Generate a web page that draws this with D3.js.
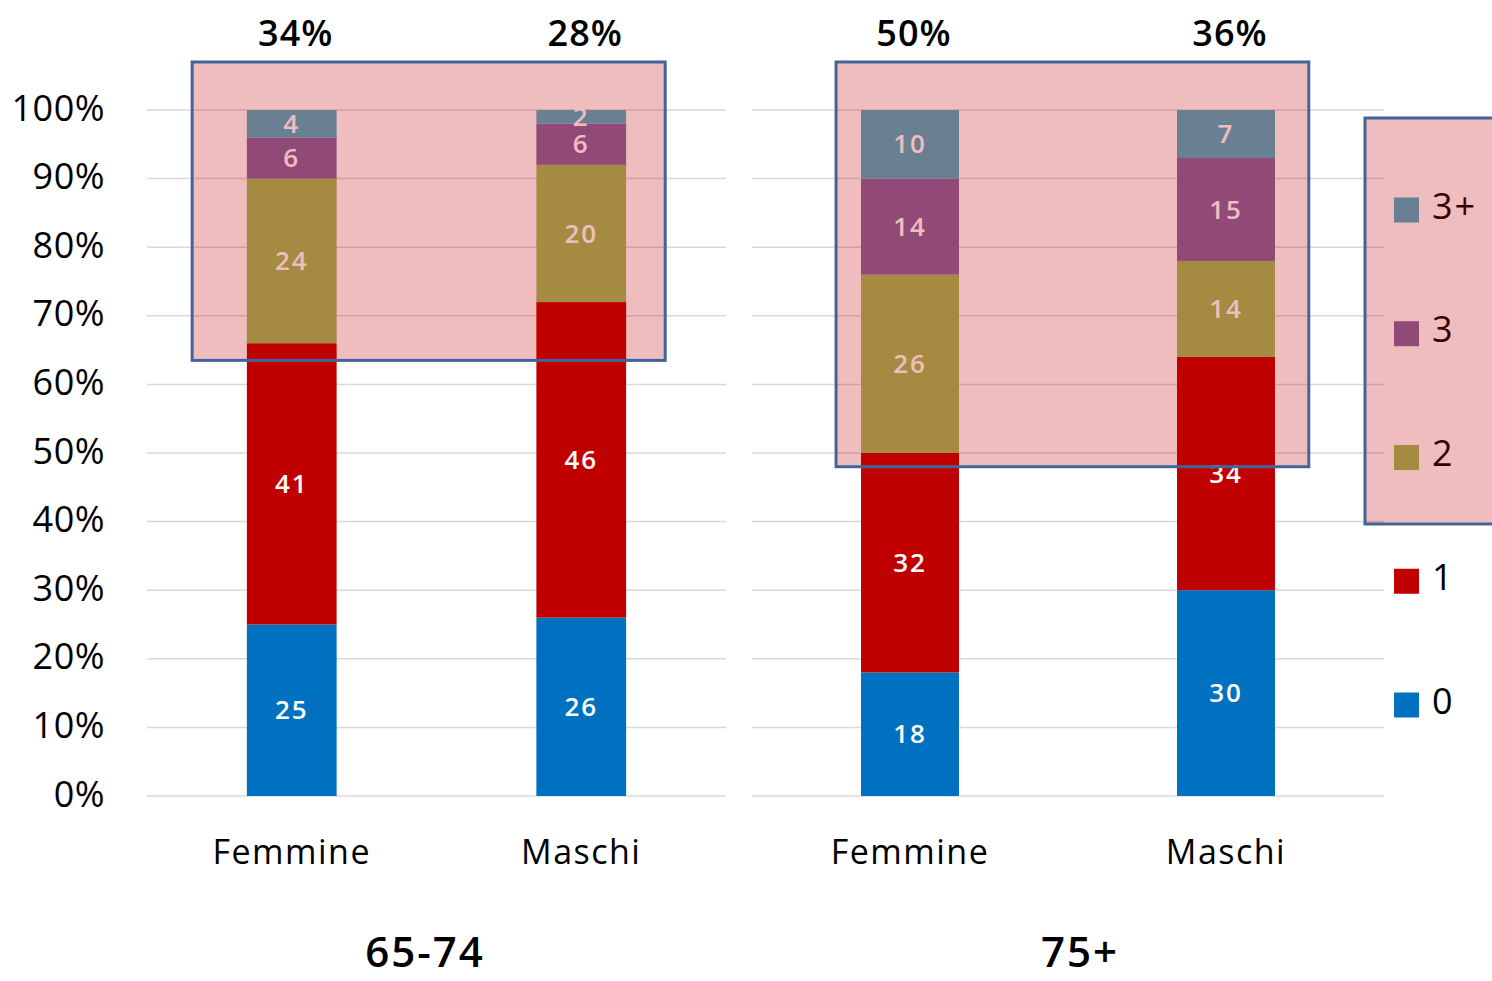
<!DOCTYPE html>
<html>
<head>
<meta charset="utf-8">
<script src="https://cdn.jsdelivr.net/npm/d3@7"></script>
<style>
body { margin: 0; background: #fff; }
svg text { font-family: "Open Sans", "Noto Sans", sans-serif; }
</style>
</head>
<body>
<svg width="1492" height="981"></svg>
<script>
// data
var groups = ["65-74", "75+"];
var sexes = ["Femmine", "Maschi"];
var categories = ["0", "1", "2", "3", "3+"];
var colors = ["#0070c0", "#c00000", "#9bbb59", "#8064a2", "#4bacc6"];
var femmine6574 = [25, 41, 24, 6, 4];
var maschi6574 = [26, 46, 20, 6, 2];
var femmine75 = [18, 32, 26, 14, 10];
var maschi75 = [30, 34, 14, 15, 7];
var topLabels = [["34%", "28%"], ["50%", "36%"]];
var yTicks = [0, 10, 20, 30, 40, 50, 60, 70, 80, 90, 100];

var values = [[femmine6574, maschi6574], [femmine75, maschi75]];

var svg = d3.select("svg");

var y = d3.scaleLinear().domain([0, 100]).range([796, 110]);
var panels = [[147, 726], [752, 1384]];
// highlight boxes: fraction of panel width, top/bottom in % units
var boxes = [{x0: 0.078, x1: 0.895, top: 107, bottom: 63.5},
             {x0: 0.133, x1: 0.881, top: 107, bottom: 48}];

var overlayFill = "rgba(192,0,0,0.26)";
var boxStroke = "#41659b";

// y axis labels
svg.append("g").selectAll("text")
  .data(yTicks).enter().append("text")
  .attr("x", 105)
  .attr("y", function(d) { return y(d) - 2; })
  .attr("dy", "0.35em")
  .attr("text-anchor", "end")
  .style("font-size", "36px")
  .style("letter-spacing", "0.5px")
  .text(function(d) { return d + "%"; });

groups.forEach(function(grp, gi) {
  var p = panels[gi];
  var x = d3.scaleBand().domain(sexes).range(p).paddingInner(0.69).paddingOuter(0.345);
  var g = svg.append("g");

  g.selectAll("line.grid")
    .data(yTicks).enter().append("line")
    .attr("x1", p[0]).attr("x2", p[1])
    .attr("y1", function(d) { return y(d); })
    .attr("y2", function(d) { return y(d); })
    .attr("stroke", "#d9d9d9")
    .attr("stroke-width", 1.5);

  sexes.forEach(function(sex, si) {
    var v = values[gi][si];
    var stack = [];
    var acc = 0;
    v.forEach(function(val, ci) {
      stack.push({lo: acc, hi: acc + val, val: val, ci: ci});
      acc += val;
    });
    g.selectAll("rect.s" + si)
      .data(stack).enter().append("rect")
      .attr("x", x(sex))
      .attr("width", x.bandwidth())
      .attr("y", function(d) { return y(d.hi); })
      .attr("height", function(d) { return y(d.lo) - y(d.hi); })
      .attr("fill", function(d) { return colors[d.ci]; });
    g.selectAll("text.s" + si)
      .data(stack).enter().append("text")
      .attr("x", x(sex) + x.bandwidth() / 2)
      .attr("y", function(d) { return y((d.lo + d.hi) / 2); })
      .attr("dy", "0.35em")
      .attr("text-anchor", "middle")
      .attr("fill", "#fff")
      .style("font-size", "26px")
      .style("font-weight", "600")
      .style("letter-spacing", "2px")
      .text(function(d) { return d.val; });

    g.append("text")
      .attr("x", x(sex) + x.bandwidth() / 2)
      .attr("y", 852)
      .attr("dy", "0.35em")
      .attr("text-anchor", "middle")
      .style("font-size", "34px")
      .style("letter-spacing", "1.5px")
      .text(sex);
  });

  // highlight box
  var px = d3.scaleLinear().domain([0, 1]).range(p);
  var b = boxes[gi];
  g.append("rect")
    .attr("x", px(b.x0)).attr("width", px(b.x1) - px(b.x0))
    .attr("y", y(b.top)).attr("height", y(b.bottom) - y(b.top))
    .attr("fill", overlayFill)
    .attr("stroke", boxStroke)
    .attr("stroke-width", 3);

  sexes.forEach(function(sex, si) {
    g.append("text")
      .attr("x", x(sex) + x.bandwidth() / 2 + 4)
      .attr("y", 33)
      .attr("dy", "0.35em")
      .attr("text-anchor", "middle")
      .style("font-size", "36px")
      .style("font-weight", "600")
      .style("letter-spacing", "1px")
      .text(topLabels[gi][si]);
  });

  g.append("text")
    .attr("x", gi === 0 ? 425 : 1080)
    .attr("y", 952)
    .attr("dy", "0.35em")
    .attr("text-anchor", "middle")
    .style("font-size", "42px")
    .style("font-weight", "600")
    .style("letter-spacing", "2px")
    .text(grp);
});

// legend
var ly = d3.scalePoint().domain(categories.slice().reverse()).range([210, 705]);
var leg = svg.append("g");
leg.selectAll("rect")
  .data(categories).enter().append("rect")
  .attr("x", 1394)
  .attr("y", function(d) { return ly(d) - 12.5; })
  .attr("width", 25).attr("height", 25)
  .attr("fill", function(d, i) { return colors[i]; });
leg.selectAll("text")
  .data(categories).enter().append("text")
  .attr("x", 1432)
  .attr("y", function(d) { return ly(d) - 4; })
  .attr("dy", "0.35em")
  .style("font-size", "36px")
  .style("letter-spacing", "2px")
  .text(function(d) { return d; });
leg.append("rect")
  .attr("x", 1365).attr("width", 140)
  .attr("y", 118).attr("height", 406)
  .attr("fill", overlayFill)
  .attr("stroke", boxStroke)
  .attr("stroke-width", 3);
</script>
</body>
</html>
